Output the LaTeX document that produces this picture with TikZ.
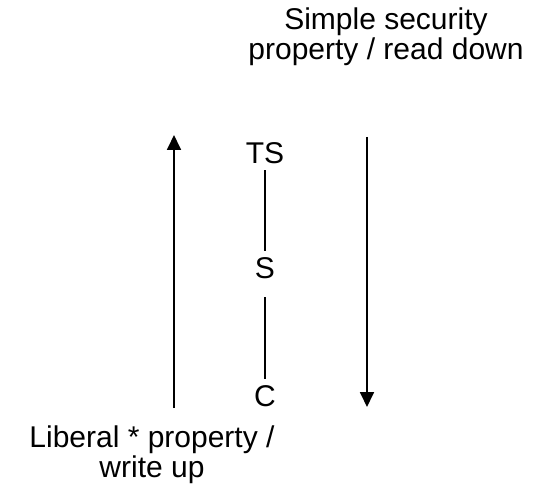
\documentclass[tikz,border=0pt]{standalone}
\usepackage{fontspec}
\setmainfont{Liberation Sans}
\usetikzlibrary{arrows.meta}
\begin{document}
\begin{tikzpicture}[x=1pt,y=-1pt,
  lbl/.style={inner sep=0pt, font=\fontsize{30}{30}\selectfont},
  level/.style={inner sep=0pt, font=\fontsize{30}{30}\selectfont, anchor=base},
  link/.style={line width=2.6pt},
  flow/.style={line width=1.8pt, -{Triangle[length=15pt,width=14pt]}}]
\useasboundingbox (0,0) rectangle (536,492);
% security levels
\node[level] (ts) at (265,164) {TS};
\node[level] (s)  at (265,278) {S};
\node[level] (c)  at (265,406) {C};
\draw[link, shorten <=6pt, shorten >=6pt] (ts) -- (s);
\draw[link, shorten <=19pt, shorten >=6pt] (s) -- (c);
% direction arrows
\coordinate (upfrom) at (174,408);
\coordinate (upto)   at (174,135);
\coordinate (dnfrom) at (367,137);
\coordinate (dnto)   at (367,407);
\draw[flow] (upfrom) -- (upto);
\draw[flow] (dnfrom) -- (dnto);
% property labels
\node[lbl, align=center, anchor=north] (read) at (386,8) {Simple security\\property / read down};
\node[lbl, align=center, anchor=north] (write) at (152,426) {Liberal * property /\\write up};
\end{tikzpicture}
\end{document}
